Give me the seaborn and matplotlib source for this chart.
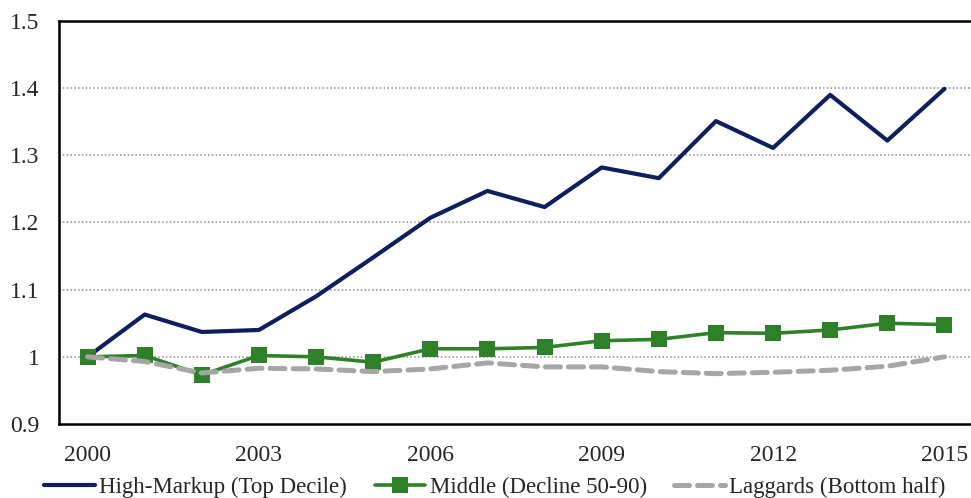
import matplotlib
matplotlib.use("Agg")
import matplotlib.pyplot as plt
import seaborn as sns
import pandas as pd
import numpy as np

years = list(range(2000, 2016))
high_markup = [1.000, 1.063, 1.037, 1.040, 1.090, 1.148, 1.207, 1.247,
               1.223, 1.282, 1.266, 1.351, 1.311, 1.390, 1.322, 1.399]
middle = [1.000, 1.002, 0.973, 1.002, 1.000, 0.992, 1.012, 1.012,
          1.014, 1.024, 1.026, 1.036, 1.035, 1.040, 1.050, 1.048]
laggards = [1.000, 0.993, 0.976, 0.983, 0.982, 0.978, 0.982, 0.991,
            0.985, 0.985, 0.978, 0.975, 0.977, 0.980, 0.986, 1.000]
labels = ["High-Markup (Top Decile)", "Middle (Decline 50-90)", "Laggards (Bottom half)"]
shown_years = [2000, 2003, 2006, 2009, 2012, 2015]

sns.set_style("white")
plt.rcParams['font.family'] = ['Liberation Serif', 'DejaVu Serif']

df = pd.DataFrame({'pos': np.arange(len(years)), 'year': years,
                   'high': high_markup, 'mid': middle, 'lag': laggards})

fig = plt.figure(figsize=(9.71, 4.98), dpi=100)
ax = fig.add_axes([59/971, 74/498, 914/971, 403/498])

sns.lineplot(data=df, x='pos', y='high', ax=ax, color='#0c1f5e', linewidth=3.0,
             label=labels[0])
sns.lineplot(data=df, x='pos', y='mid', ax=ax, color='#2f8129', linewidth=2.6,
             marker='s', markersize=11, markeredgewidth=0, label=labels[1])
sns.lineplot(data=df, x='pos', y='lag', ax=ax, color='#a6a6a6', linewidth=3.6,
             dashes=(3, 1.6), label=labels[2])
ax.get_lines()[-1].set_dash_capstyle('round')

ax.set_xlim(-0.5, len(years) - 0.5)
ax.set_ylim(0.9, 1.5)
ax.set_yticks([0.9, 1.0, 1.1, 1.2, 1.3, 1.4, 1.5])
ax.set_yticklabels(['0.9', '1', '1.1', '1.2', '1.3', '1.4', '1.5'], fontsize=17)
ax.tick_params(axis='y', length=0, pad=14)
for v in [1.0, 1.1, 1.2, 1.3, 1.4]:
    ax.axhline(v, color='#8c8c8c', linestyle=(0, (1, 1.5)), linewidth=1.1, zorder=0)

ax.set_xticks(np.arange(-0.5, len(years)), minor=False)
ax.set_xticklabels([])
ax.tick_params(axis='x', which='major', direction='inout', length=10, width=1.5, color='black')
ax.set_xticks([years.index(y) for y in shown_years], minor=True)
ax.set_xticklabels([str(y) for y in shown_years], minor=True, fontsize=17)
ax.tick_params(axis='x', which='minor', length=0, pad=15)

ax.set_xlabel('')
ax.set_ylabel('')
for side in ['left', 'top', 'bottom']:
    ax.spines[side].set_visible(True)
    ax.spines[side].set_color('black')
    ax.spines[side].set_linewidth(1.8)
ax.spines['right'].set_visible(False)

ax.legend(loc='center', bbox_to_anchor=(0.477, -0.157), ncol=3, frameon=False,
          fontsize=16.5, handlelength=2.2, columnspacing=1.2, handletextpad=0.2,
          borderaxespad=0)

fig.savefig('out.png', dpi=100)
